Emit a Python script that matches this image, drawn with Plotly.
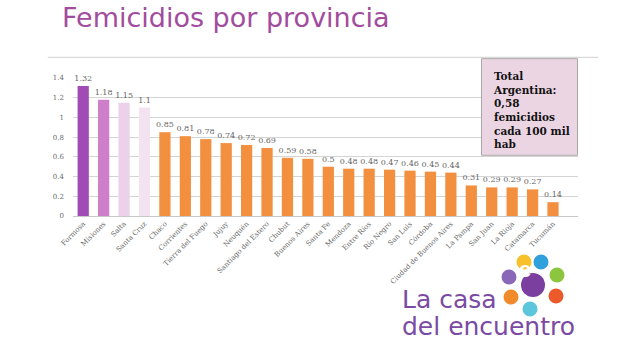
import plotly.graph_objects as go

provincias = ["Formosa", "Misiones", "Salta", "Santa Cruz", "Chaco", "Corrientes",
              "Tierra del Fuego", "Jujuy", "Neuquén", "Santiago del Estero", "Chubut",
              "Buenos Aires", "Santa Fe", "Mendoza", "Entre Ríos", "Río Negro",
              "San Luis", "Córdoba", "Ciudad de Buenos Aires", "La Pampa", "San Juan",
              "La Rioja", "Catamarca", "Tucumán"]
tasas = [1.32, 1.18, 1.15, 1.1, 0.85, 0.81, 0.78, 0.74, 0.72, 0.69, 0.59, 0.58,
         0.5, 0.48, 0.48, 0.47, 0.46, 0.45, 0.44, 0.31, 0.29, 0.29, 0.27, 0.14]
colores = ["#a04cb4", "#cf7fca", "#ecd1ea", "#f3e3f0"] + ["#f2903f"] * 20
y_ticks = [0, 0.2, 0.4, 0.6, 0.8, 1, 1.2, 1.4]

fig = go.Figure()
fig.add_trace(go.Bar(
    x=provincias, y=tasas,
    marker=dict(color=colores, line=dict(width=0)),
    texttemplate="%{y}", textposition="outside", cliponaxis=False,
    constraintext="none",
    textfont=dict(family="DejaVu Serif", size=8, color="#666666"),
    width=0.55,
))

serif = "DejaVu Serif"
fig.update_layout(
    width=630, height=350, margin=dict(l=73, r=52, t=78, b=134),
    paper_bgcolor="white", plot_bgcolor="white", showlegend=False,
    xaxis=dict(tickangle=-45, tickfont=dict(family=serif, size=7, color="#6a6a6a"),
               showline=True, linecolor="#c8c8c8", linewidth=1, ticks="",
               showgrid=False),
    yaxis=dict(range=[0, 1.4], tickvals=y_ticks, showgrid=True, gridcolor="#d4d4d4",
               gridwidth=1, zeroline=False, tickfont=dict(family=serif, size=7, color="#6a6a6a"),
               ticks="", ticklabelstandoff=8),
    shapes=[
        dict(type="line", xref="paper", yref="paper", x0=-0.05, x1=1.04, y0=1.15, y1=1.15,
             line=dict(color="#cfcfcf", width=1)),
        dict(type="rect", xref="x", yref="paper", x0=19.5, x1=24.2, y0=0.44, y1=1.14,
             fillcolor="#ecd5e3", line=dict(color="#a8a8a8", width=1)),
    ],
    annotations=[
        dict(text="Femicidios por provincia", xref="paper", yref="paper", x=-0.025, y=1.31,
             xanchor="left", yanchor="bottom", showarrow=False,
             font=dict(family="DejaVu Sans", size=27, color="#a24c9e")),
        dict(text="<b>Total<br>Argentina:<br>0,58<br>femicidios<br>cada 100 mil<br>hab</b>",
             xref="x", yref="paper", x=19.95, y=1.075, xanchor="left", yanchor="top",
             align="left", showarrow=False,
             font=dict(family=serif, size=10.5, color="#111111")),
        dict(text="La casa", xref="paper", yref="paper", x=(400 - 73) / 505,
             y=(216 - 283) / 138, xanchor="left", yanchor="top", align="left",
             showarrow=False, font=dict(family="DejaVu Sans", size=25, color="#7b4aa3")),
        dict(text="del encuentro", xref="paper", yref="paper", x=(400 - 73) / 505,
             y=(216 - 310) / 138, xanchor="left", yanchor="top", align="left",
             showarrow=False, font=dict(family="DejaVu Sans", size=25, color="#7b4aa3")),
    ],
)

# logo circles (decorative)
circ = [(524, 262, "#f7c12c"), (541, 262, "#2fa0dc"), (509, 277, "#8a68b8"),
        (557, 275, "#8cc63e"), (511, 297, "#f08a2a"), (556, 296, "#ec5a2c"),
        (530, 309, "#5cc6dc")]
for cx, cy, c in circ:
    fig.add_shape(type="circle", xref="paper", yref="paper",
                  x0=(cx - 7.5 - 73) / 505, x1=(cx + 7.5 - 73) / 505,
                  y0=(216 - cy - 7.5) / 138, y1=(216 - cy + 7.5) / 138,
                  fillcolor=c, line=dict(width=0))
fig.add_shape(type="circle", xref="paper", yref="paper",
              x0=(533 - 12 - 73) / 505, x1=(533 + 12 - 73) / 505,
              y0=(216 - 285 - 12) / 138, y1=(216 - 285 + 12) / 138,
              fillcolor="#7b3fa0", line=dict(width=0))
fig.add_annotation(text="<b>e</b>", xref="paper", yref="paper", x=(533 - 73) / 505,
                   y=(216 - 284) / 138, showarrow=False,
                   font=dict(family="Liberation Sans", size=22, color="white"))

fig.write_html("out.html")
